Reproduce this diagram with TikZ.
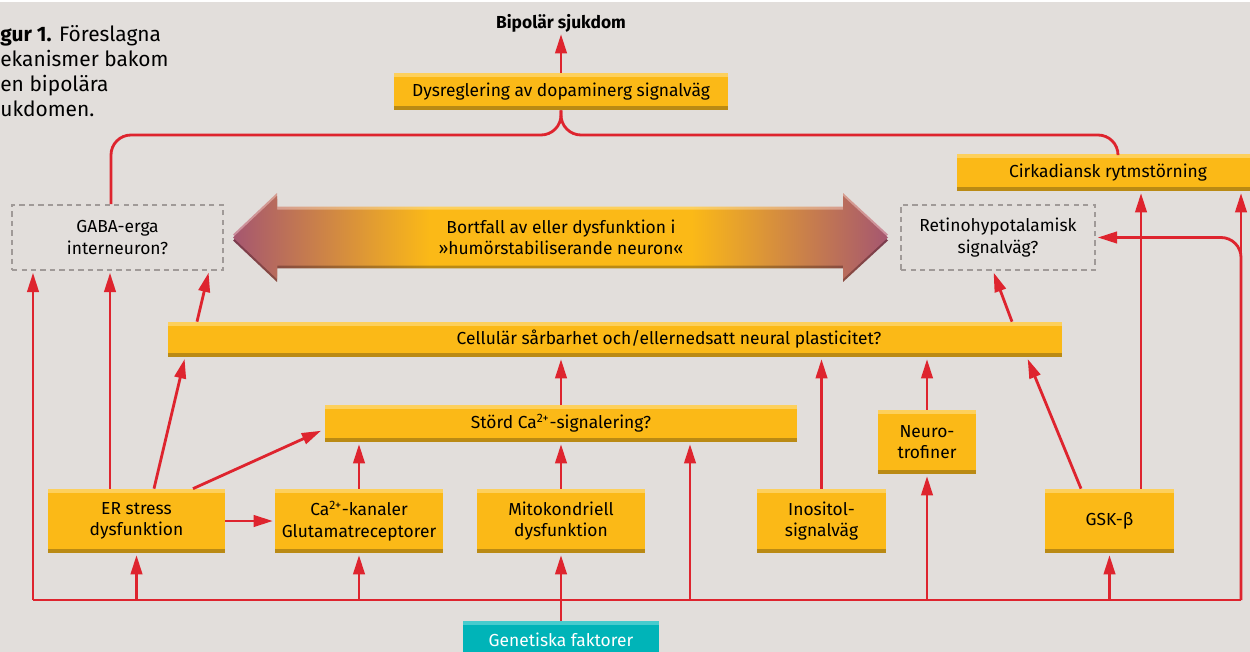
\documentclass[tikz,border=0pt]{standalone}
\usepackage{fontspec}
\setmainfont{Fira Sans}
\usetikzlibrary{arrows.meta, positioning, calc}

\definecolor{bgcol}{RGB}{226,222,219}
\definecolor{boxyel}{RGB}{251,185,23}
\definecolor{boxlight}{RGB}{253,208,92}
\definecolor{boxdark}{RGB}{186,138,20}
\definecolor{linered}{RGB}{222,36,46}
\definecolor{dashgray}{RGB}{160,154,152}
\definecolor{tealbox}{RGB}{0,180,184}
\definecolor{teallight}{RGB}{70,204,206}
\definecolor{purp}{RGB}{165,86,112}
\definecolor{purplight}{RGB}{202,142,158}
\definecolor{purpdark}{RGB}{122,58,78}

\pgfdeclarehorizontalshading{moodarrow}{100bp}{color(0bp)=(purp); color(25bp)=(purp); color(40bp)=(boxyel); color(60bp)=(boxyel); color(75bp)=(purp); color(100bp)=(purp)}
\pgfdeclarehorizontalshading{moodlight}{100bp}{color(0bp)=(purplight); color(25bp)=(purplight); color(40bp)=(boxlight); color(60bp)=(boxlight); color(75bp)=(purplight); color(100bp)=(purplight)}
\pgfdeclarehorizontalshading{mooddark}{100bp}{color(0bp)=(purpdark); color(25bp)=(purpdark); color(40bp)=(boxdark); color(60bp)=(boxdark); color(75bp)=(purpdark); color(100bp)=(purpdark)}

\newcommand\boxfont{\fontsize{9.9}{12.3}\selectfont}
\def\moodpath{(233,237.5) -- (277,196) -- (277,209.5) -- (843,209.5) -- (843,196) -- (888,237.5) -- (843,279) -- (843,265.5) -- (277,265.5) -- (277,279) -- cycle}

\begin{document}
\begin{tikzpicture}[x=0.02cm, y=-0.02cm,
    ybox/.style={fill=boxyel, inner sep=0pt, align=center, font=\boxfont,
      path picture={
        \fill[boxlight] (path picture bounding box.north west) rectangle ([yshift=-2.3pt]path picture bounding box.north east);
        \fill[boxdark] ([yshift=2.3pt]path picture bounding box.south west) rectangle (path picture bounding box.south east);}},
    tbox/.style={fill=tealbox, text=white, inner sep=0pt, font=\boxfont,
      path picture={
        \fill[teallight] (path picture bounding box.north west) rectangle ([yshift=-2.3pt]path picture bounding box.north east);}},
    qbox/.style={draw=dashgray, line width=1.1pt, dash pattern=on 3pt off 2.4pt, inner sep=0pt, align=center, font=\boxfont},
    redline/.style={draw=linered, line width=1.6pt},
    redarrow/.style={redline, shorten >=1pt, -{Triangle[length=11pt,width=6.5pt]}}]

\fill[bgcol] (0,0) rectangle (1250,652);
\fill[white] (0,0) rectangle (1250,2);
\useasboundingbox (0,0) rectangle (1250,652);

% Big double arrow
\shade[shading=mooddark, yshift=-1.7pt] \moodpath;
\shade[shading=moodlight, yshift=1.7pt] \moodpath;
\shade[shading=moodarrow] \moodpath;

% Nodes
\node[anchor=north west, align=left, inner sep=0pt, font=\fontsize{11.9}{14.2}\selectfont] (cap) at (0,25) {\textbf{gur 1.} Föreslagna\\ekanismer bakom\\en bipolära\\ukdomen.};
\node[inner sep=0pt, font=\bfseries\fontsize{9.9}{12}\selectfont] (bip) at (561,23) {Bipolär sjukdom};
\node[ybox, minimum width=6.68cm, minimum height=0.74cm] (dys) at (561,91.5) {Dysreglering av dopaminerg signalväg};
\node[ybox, minimum width=6.04cm, minimum height=0.74cm] (cirk) at (1108,172.5) {Cirkadiansk rytmstörning};
\node[qbox, minimum width=4.22cm, minimum height=1.3cm] (gaba) at (117.5,237.5) {GABA-erga\\interneuron?};
\node[qbox, minimum width=3.88cm, minimum height=1.3cm] (ret) at (998,237.5) {Retinohypotalamisk\\signalväg?};
\node[font=\boxfont, align=center, inner sep=0pt] (mood) at (561,237.5) {Bortfall av eller dysfunktion i\\»humörstabiliserande neuron«};
\node[ybox, minimum width=17.88cm, minimum height=0.7cm] (cell) at (615,339.5) {\hspace*{2.16cm}Cellulär sårbarhet och/ellernedsatt neural plasticitet?};
\node[ybox, minimum width=9.44cm, minimum height=0.74cm] (stord) at (561,423.5) {Störd Ca\textsuperscript{2+}-signalering?};
\node[ybox, minimum width=1.96cm, minimum height=1.28cm] (neuro) at (927,442) {Neuro-\\trofiner};
\node[ybox, minimum width=3.54cm, minimum height=1.28cm] (er) at (136.5,521) {ER stress\\dysfunktion};
\node[ybox, minimum width=3.36cm, minimum height=1.28cm] (kan) at (359,521) {Ca\textsuperscript{2+}-kanaler\\Glutamatreceptorer};
\node[ybox, minimum width=3.36cm, minimum height=1.28cm] (mito) at (561,521) {Mitokondriell\\dysfunktion};
\node[ybox, minimum width=2.58cm, minimum height=1.28cm] (ino) at (821.5,521) {Inositol-\\signalväg};
\node[ybox, minimum width=2.58cm, minimum height=1.28cm] (gsk) at (1109.5,521) {GSK-β};
\node[tbox, minimum width=3.94cm, minimum height=0.76cm] (gen) at (561,640) {Genetiska faktorer};

\coordinate (busL) at (33,600);
\coordinate (busR) at (1241,600);
\coordinate (busC) at (690,600);
\coordinate (jn) at (561,135);

% Edges
\draw[redarrow] (dys.north) -- (bip.south);
\draw[redline, rounded corners=0.4cm] ($(gaba.north)+(-6.5,0)$) |- (jn) -- (dys.south);
\draw[redline, rounded corners=0.4cm] ($(cirk.north)+(10,0)$) |- (jn) -- (dys.south);

\draw[redline] (busL) -- (busR);
\draw[redarrow] (busL) -- (busL |- gaba.south);
\draw[redarrow] (busR) -- (busR |- cirk.south);
\draw[redarrow, rounded corners=0.4cm] (busR) -- (busR |- ret.east) -- (ret.east);
\draw[redarrow] (er.south |- busL) -- (er.south);
\draw[redarrow] (kan.south |- busL) -- (kan.south);
\draw[redarrow] (gen.north) -- (mito.south);
\draw[redarrow] (busC) -- (busC |- stord.south);
\draw[redarrow] (neuro.south |- busL) -- (neuro.south);
\draw[redarrow] (gsk.south |- busL) -- (gsk.south);

\draw[redarrow] (er.east) -- (kan.west);
\draw[redarrow] ($(er.north)+(-26.5,0)$) -- ($(gaba.south)+(-7.5,0)$);
\draw[redarrow] ($(er.north)+(17.5,0)$) -- ($(cell.south)+(-430,0)$);
\draw[redarrow] ($(er.north)+(56.5,0)$) -- ($(stord.west)+(-2,6.5)$);
\draw[redarrow] (kan.north) -- (kan.north |- stord.south);
\draw[redarrow] (mito.north) -- (stord.south);
\draw[redarrow] (stord.north) -- (stord.north |- cell.south);
\draw[redarrow] (ino.north) -- (ino.north |- cell.south);
\draw[redarrow] (neuro.north) -- (neuro.north |- cell.south);
\draw[redarrow] ($(gsk.north)+(-28.5,0)$) -- ($(cell.south)+(412,0)$);
\draw[redarrow] ($(gsk.north)+(31.5,0)$) -- ($(cirk.south -| gsk.north)+(31.5,0)$);
\draw[redarrow] ($(cell.north)+(-418,0)$) -- ($(gaba.south)+(91.5,0)$);
\draw[redarrow] ($(cell.north)+(397,0)$) -- ($(ret.south)+(-5,0)$);

\end{tikzpicture}
\end{document}
